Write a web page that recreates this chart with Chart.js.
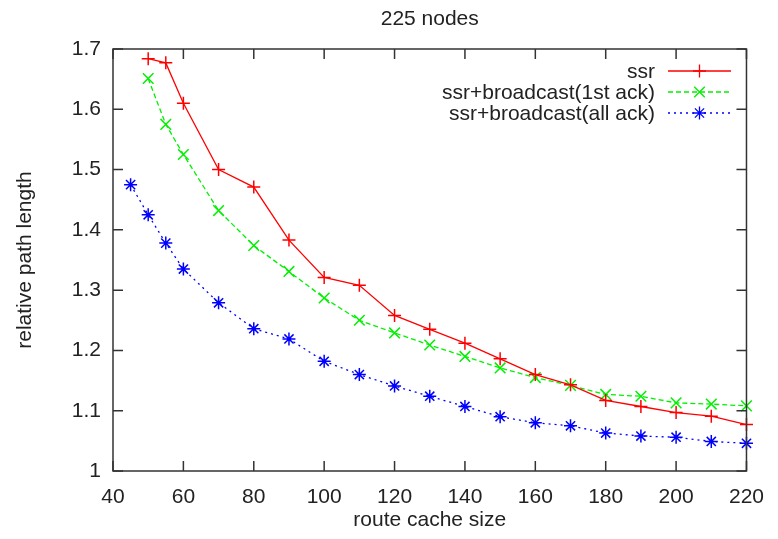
<!DOCTYPE html>
<html>
<head>
<meta charset="utf-8">
<script src="https://cdn.jsdelivr.net/npm/chart.js@4.4.0/dist/chart.umd.min.js"></script>
<style>
  body { margin: 0; background: #fff; }
  canvas { display: block; }
</style>
</head>
<body>
<canvas id="pathChart" width="778" height="539"></canvas>
<script>
const titleText = "225 nodes";
const xLabel = "route cache size";
const yLabel = "relative path length";

const xTicks = [40, 60, 80, 100, 120, 140, 160, 180, 200, 220];
const yTicks = [1, 1.1, 1.2, 1.3, 1.4, 1.5, 1.6, 1.7];

const cacheSizes = [50, 55, 60, 70, 80, 90, 100, 110, 120, 130, 140, 150, 160, 170, 180, 190, 200, 210, 220];
const ssr = [1.684, 1.677, 1.610, 1.500, 1.471, 1.383, 1.321, 1.308, 1.258, 1.235, 1.212, 1.186, 1.160, 1.143, 1.117, 1.107, 1.097, 1.091, 1.077];
const firstAck = [1.651, 1.575, 1.525, 1.432, 1.374, 1.331, 1.287, 1.250, 1.229, 1.209, 1.190, 1.171, 1.155, 1.142, 1.127, 1.124, 1.113, 1.111, 1.108];

const cacheSizesAll = [45, 50, 55, 60, 70, 80, 90, 100, 110, 120, 130, 140, 150, 160, 170, 180, 190, 200, 210, 220];
const allAck = [1.475, 1.425, 1.378, 1.335, 1.279, 1.236, 1.219, 1.182, 1.160, 1.141, 1.124, 1.107, 1.090, 1.080, 1.075, 1.063, 1.058, 1.056, 1.049, 1.046];

const FONT = "'Liberation Sans', Arial, sans-serif";
const TEXT = "#222";

function toPoints(xs, ys) {
  return xs.map((x, i) => ({ x: x, y: ys[i] }));
}

// gnuplot style frame: border box with inward ticks on all four sides
const framePlugin = {
  id: "frame",
  afterDraw(chart) {
    const { ctx, chartArea: a, scales } = chart;
    ctx.save();
    ctx.strokeStyle = "#333";
    ctx.lineWidth = 1.5;
    ctx.strokeRect(a.left, a.top, a.right - a.left, a.bottom - a.top);
    ctx.beginPath();
    xTicks.forEach((v) => {
      const px = scales.x.getPixelForValue(v);
      ctx.moveTo(px, a.bottom);
      ctx.lineTo(px, a.bottom - 10);
      ctx.moveTo(px, a.top);
      ctx.lineTo(px, a.top + 10);
    });
    yTicks.forEach((v) => {
      const py = scales.y.getPixelForValue(v);
      ctx.moveTo(a.left, py);
      ctx.lineTo(a.left + 10, py);
      ctx.moveTo(a.right, py);
      ctx.lineTo(a.right - 10, py);
    });
    ctx.stroke();

    // title over the plot
    ctx.fillStyle = TEXT;
    ctx.font = "21px " + FONT;
    ctx.textAlign = "center";
    ctx.textBaseline = "middle";
    ctx.fillText(titleText, (a.left + a.right) / 2, 19);
    ctx.restore();
  },
};

// legend inside the top right corner, text right aligned, sample on the right
const keyPlugin = {
  id: "key",
  afterDatasetsDraw(chart) {
    const { ctx } = chart;
    const textRight = 655;
    const lineLeft = 668;
    const lineRight = 731;
    const top = 71;
    const step = 21;
    ctx.save();
    chart.data.datasets.forEach((ds, i) => {
      const y = top + i * step;
      ctx.fillStyle = TEXT;
      ctx.font = "21px " + FONT;
      ctx.textAlign = "right";
      ctx.textBaseline = "middle";
      ctx.fillText(ds.label, textRight, y + 1);

      ctx.strokeStyle = ds.borderColor;
      ctx.lineWidth = ds.borderWidth;
      ctx.setLineDash(ds.borderDash || []);
      ctx.beginPath();
      ctx.moveTo(lineLeft, y);
      ctx.lineTo(lineRight, y);
      ctx.stroke();
      ctx.setLineDash([]);
      Chart.helpers.drawPoint(ctx, {
        pointStyle: ds.pointStyle,
        radius: ds.pointRadius,
        borderWidth: ds.pointBorderWidth,
        rotation: 0,
      }, (lineLeft + lineRight) / 2, y);
    });
    ctx.restore();
  },
};

const ctx = document.getElementById("pathChart").getContext("2d");

const pathChart = new Chart(ctx, {
  type: "line",
  data: {
    datasets: [
      {
        label: "ssr",
        data: toPoints(cacheSizes, ssr),
        borderColor: "rgb(255, 0, 0)",
        backgroundColor: "rgb(255, 0, 0)",
        borderWidth: 1.3,
        pointStyle: "cross",
        pointRadius: 6.5,
        pointBorderWidth: 1.5,
        pointBorderColor: "rgb(255, 0, 0)",
        clip: false,
      },
      {
        label: "ssr+broadcast(1st ack)",
        data: toPoints(cacheSizes, firstAck),
        borderColor: "rgb(0, 240, 0)",
        backgroundColor: "rgb(0, 240, 0)",
        borderWidth: 1.3,
        borderDash: [5, 3],
        pointStyle: "crossRot",
        pointRadius: 7.5,
        pointBorderWidth: 1.5,
        pointBorderColor: "rgb(0, 240, 0)",
        clip: false,
      },
      {
        label: "ssr+broadcast(all ack)",
        data: toPoints(cacheSizesAll, allAck),
        borderColor: "rgb(0, 0, 255)",
        backgroundColor: "rgb(0, 0, 255)",
        borderWidth: 1.3,
        borderDash: [2, 4],
        pointStyle: "star",
        pointRadius: 6.5,
        pointBorderWidth: 1.5,
        pointBorderColor: "rgb(0, 0, 255)",
        clip: false,
      },
    ],
  },
  options: {
    responsive: false,
    animation: false,
    layout: {
      padding: { top: 49, right: 20, left: 0, bottom: 0 },
    },
    plugins: {
      legend: { display: false },
      tooltip: { enabled: false },
    },
    scales: {
      x: {
        type: "linear",
        min: 40,
        max: 220,
        grid: { display: false, drawTicks: false },
        border: { display: false },
        ticks: {
          stepSize: 20,
          color: TEXT,
          font: { family: FONT, size: 21 },
          padding: 14,
          maxRotation: 0,
        },
        title: {
          display: true,
          text: xLabel,
          color: TEXT,
          font: { family: FONT, size: 21 },
          padding: { top: 0, bottom: 6 },
        },
        afterFit(scale) {
          scale.height = 68;
        },
      },
      y: {
        min: 1,
        max: 1.7,
        grid: { display: false, drawTicks: false },
        border: { display: false },
        ticks: {
          stepSize: 0.1,
          color: TEXT,
          font: { family: FONT, size: 21 },
          padding: 12,
          callback: (v) => String(+v.toFixed(1)),
        },
        title: {
          display: true,
          text: yLabel,
          color: TEXT,
          font: { family: FONT, size: 21 },
          padding: { top: 13, bottom: 0 },
        },
        afterFit(scale) {
          scale.width = 113;
        },
      },
    },
  },
  plugins: [framePlugin, keyPlugin],
});
</script>
</body>
</html>
